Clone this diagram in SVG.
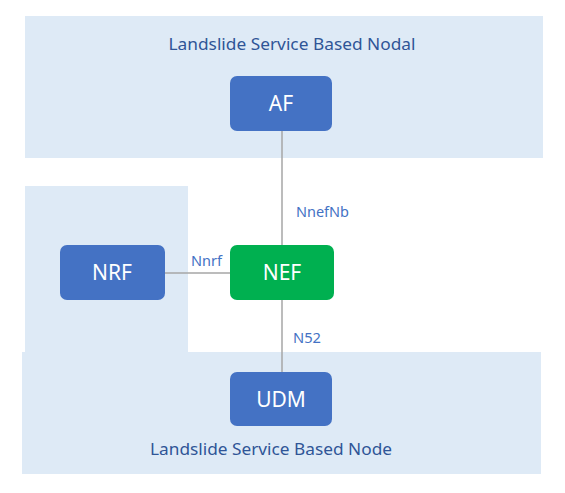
<svg xmlns="http://www.w3.org/2000/svg" width="565" height="493" viewBox="0 0 565 493">
<style>
.band{fill:#DEEAF6}
.box{fill:#4472C4}
.nef{fill:#00B050}
.lbl{font-family:"Noto Sans","Open Sans",sans-serif;font-size:21px;fill:#FFFFFF;text-anchor:middle}
.title{font-family:"Noto Sans","Open Sans",sans-serif;font-size:17px;fill:#2F5597;text-anchor:middle}
.edge{font-family:"Noto Sans","Open Sans",sans-serif;font-size:14px;fill:#4472C4}
.conn{stroke:#A6A6A6;stroke-width:1.5;fill:none}
</style>
<rect width="565" height="493" fill="#FFFFFF"/>
<g id="band-top"><rect class="band" x="25" y="16" width="518" height="142"/>
<text class="title" x="292" y="50" textLength="247" lengthAdjust="spacingAndGlyphs">Landslide Service Based Nodal</text></g>
<g id="band-left"><rect class="band" x="25" y="186" width="163" height="167"/></g>
<g id="band-bottom"><rect class="band" x="22" y="352" width="519" height="122"/>
<text class="title" x="271" y="455" textLength="242" lengthAdjust="spacingAndGlyphs">Landslide Service Based Node</text></g>
<g id="connectors">
<line class="conn" x1="282" y1="131" x2="282" y2="245"/>
<line class="conn" x1="165" y1="273" x2="230" y2="273"/>
<line class="conn" x1="282" y1="300" x2="282" y2="372"/>
<text class="edge" x="296" y="217" textLength="53" lengthAdjust="spacingAndGlyphs">NnefNb</text>
<text class="edge" x="191" y="266" textLength="31" lengthAdjust="spacingAndGlyphs">Nnrf</text>
<text class="edge" x="293" y="343" textLength="28" lengthAdjust="spacingAndGlyphs">N52</text>
</g>
<g id="AF"><rect class="box" x="230" y="76" width="102" height="55" rx="7"/>
<text class="lbl" x="281" y="111">AF</text></g>
<g id="NRF"><rect class="box" x="60" y="245" width="105" height="55" rx="7"/>
<text class="lbl" x="112" y="280">NRF</text></g>
<g id="NEF"><rect class="nef" x="230" y="245" width="104" height="55" rx="7"/>
<text class="lbl" x="282" y="280">NEF</text></g>
<g id="UDM"><rect class="box" x="230" y="372" width="102" height="54" rx="7"/>
<text class="lbl" x="281" y="407">UDM</text></g>
</svg>
